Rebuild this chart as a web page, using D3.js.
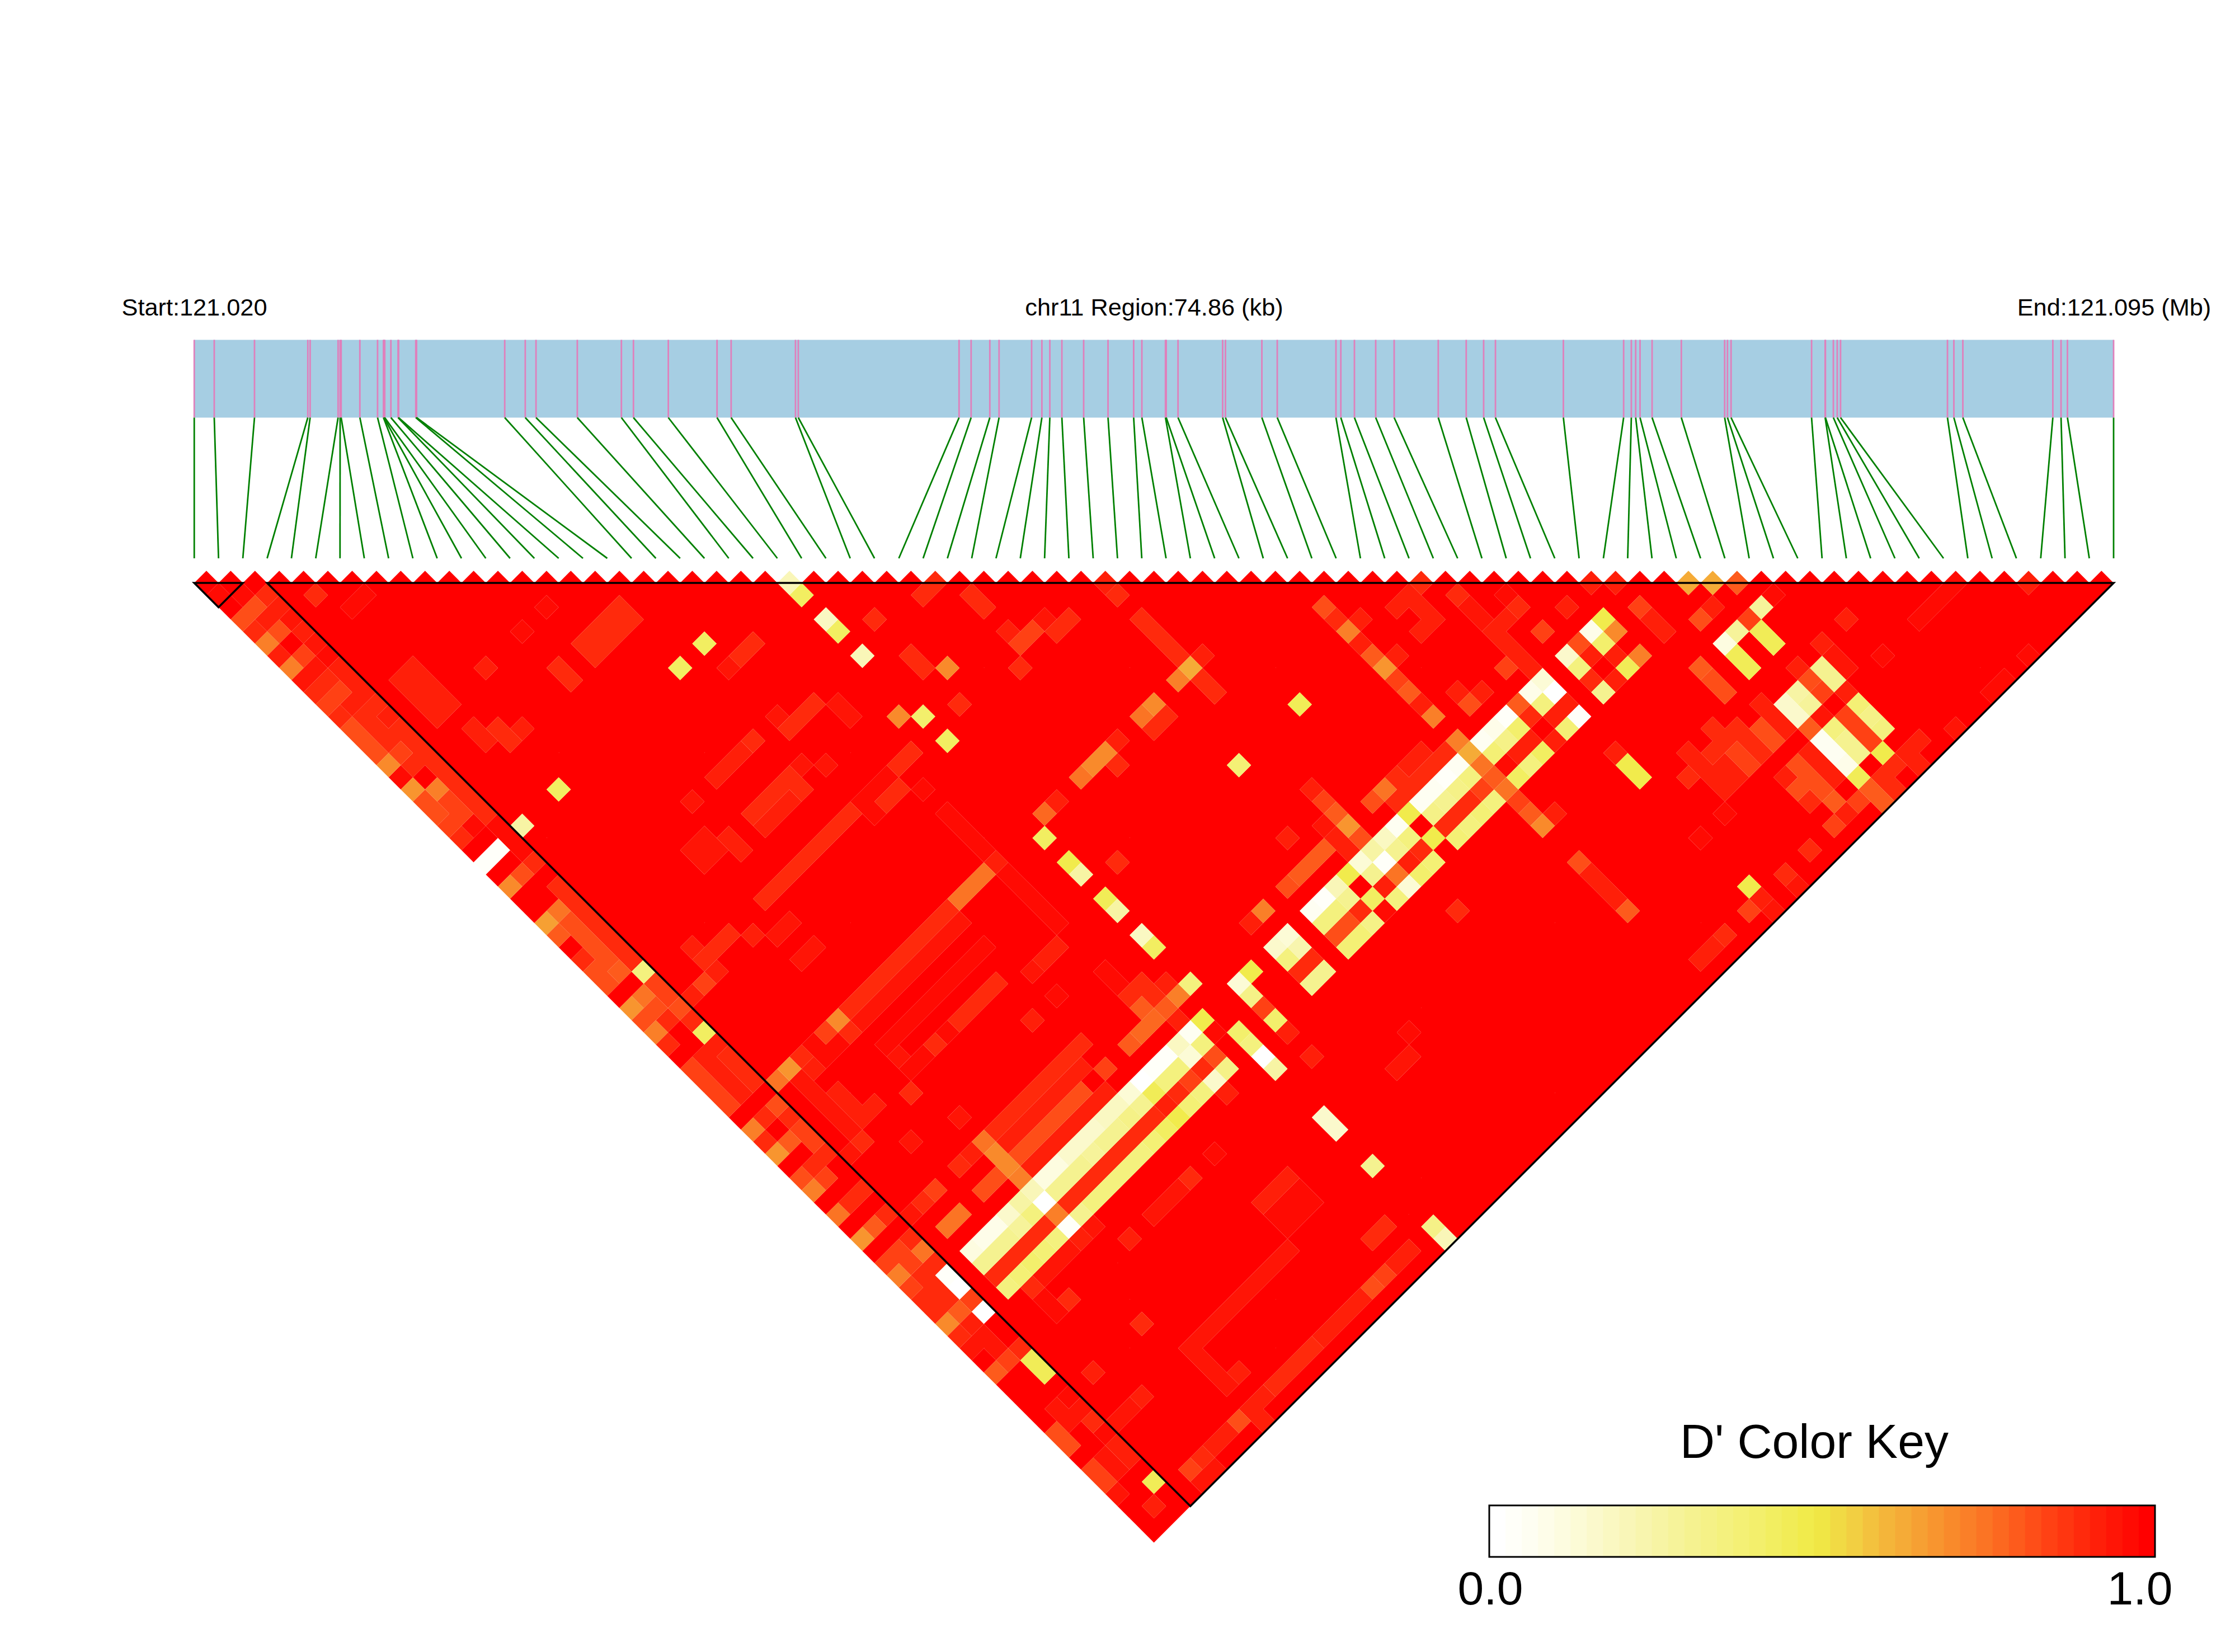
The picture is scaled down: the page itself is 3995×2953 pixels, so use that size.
<!DOCTYPE html>
<html><head><meta charset="utf-8">
<script src="https://cdn.jsdelivr.net/npm/d3@7"></script>
<style>html,body{margin:0;padding:0;background:#fff}text{font-family:"Liberation Sans",Arial,sans-serif;fill:#000}</style>
</head><body><svg id="c" width="3995" height="2953"></svg>
<script>
// SNP positions in kb from the region start
const snpKb=[0,.78,2.35,4.43,4.52,5.61,5.69,5.73,6.46,7.15,7.38,7.40,7.43,7.67,7.95,7.97,8.64,8.67,12.11,12.91,13.33,14.94,16.66,17.13,18.49,20.39,20.94,23.45,23.56,29.83,30.30,31.03,31.39,32.66,33.06,33.37,33.84,34.69,35.64,36.64,36.96,37.88,37.91,38.37,40.11,40.22,41.64,42.24,44.53,44.72,45.25,46.08,46.80,48.52,49.61,50.29,50.75,53.40,55.75,56.05,56.22,56.39,56.86,58.00,59.69,59.80,59.94,63.08,63.61,63.62,63.93,64.08,64.21,68.38,68.63,68.98,72.49,72.81,73.06,74.86];
const regionKb=74.86;
const labels=["Start:121.020","chr11 Region:74.86 (kb)","End:121.095 (Mb)"];
const keyTitle="D' Color Key", keyTicks=["0.0","1.0"];
const keyStops=[0,.05,.1,.2,.3,.4,.49,.55,.6,.65,.7,.75,.8,.85,.9,.95,1];
const keyColors=["#ffffff","#fefef2","#fdfce0","#f9f6b8","#f5f290","#f3ef6c","#f0ea46","#f2cf42","#f4b53a","#f6a033","#f98a2b","#fb7424","#fd5b1c","#ff4114","#ff2a0c","#ff1506","#ff0000"];
const blocks=[[0,2],[3,79]];

// D' by SNP i, for j = jStart, jStart+1, ...
const row0=[0,1,[1,.97,1,.8,.85,.72,.9,.72,.92,.85,.82,.85,.8,.8,.8,.7,.95,.68,.8,.8,.82,.85,1,.03,1,.7,1,1,.65,.78,1,.85,.8,.8,1,.68,.8,.72,.85,1,.82,.82,.82,.82,1,.72,.85,.67,1,.8,.72,1,.75,1,.67,1,.82,.72,.82,.85,.87,.7,.87,.92,1,.78,1,1,1,1,.8,.8,1,.82,.82,.92,1,1,1]];
const row1=[1,2,[1,.95,.8,.88,.8,1,.82,.92,.85,.82,.88,.85,.85,.85,.82,.85,1,.72,.82,.82,.95,1,.03,1,.8,1,1,.75,.8,.8,.8,.8,.78,1,.75,.8,.85,1,1,.9,.9,.9,.9,1,.85,1,.78,1,.85,.82,1,.85,1,.78,1,.82,.82,.85,.85,.85,.78,.9,.92,.92,.82,1,1,1,.92,.92,1,1,.92,.92,1,1,.9,1]];
const row2=[2,3,[1,.85,.88,.92,.9,.92,.95,.9,.9,.88,.85,.88,.85,.85,.85,.85,.85,.85,.85,.85,.95,.95,.95,.85,1,.85,.85,.85,.85,.85,.85,.85,.35,.82,.82,.8,.85,.42,.9,.85,.85,.85,1,.8,.85,.82,.82,.85,1,1,.85,1,.85,1,.85,.75,.85,.02,0,.82,0,1,1,.85,.45,.45,1,.95,.92,.85,.95,.88,.88,1,.45,1,1]];
const row45a=[45,48,[.8,.85,.72,.88,.78,.68,.82,.78,.9,.72,1,.72]];
const row45b=[45,64,[.82,.78,.7]];
const row45c=[45,69,[.8,.9,.88,.88,.78]];
const row37a=[37,41,[.85,.85,.85,.87,.62,.85,.85]];
const row37b=[37,55,[.9,.82,.78,.68,.8]];
const row51=[51,53,[.87,.93,.93,.9,.9,.9,.9]];
const row21=[21,41,[.95,.95,.95,.95,.88,.95,.95,.95,.95,.95]];
const row9=[9,74,[.93,.93,.93]];
const row4=[4,46,[.92,.92,.92,.92,.92]];
const rowSeries=[row0,row1,row2,row45a,row45b,row45c,row37a,row37b,row51,row21,row9,row4];

// D' by SNP j, for i = iStart, iStart+1, ...
const col45a=[45,3,[.75,.68,.85,.95,.82,.7,.85,.85,.85,.85,.85,.85,.85,.85,.85]];
const col45b=[45,18,[.75,.75,.75,.88]];
const col45c=[45,25,[.77,.88,1,.75,.7,.7,.88,1,.75,.7,1,.72]];
const col46=[46,5,[.88,.95,.95,.87,.93,.93,.93,.93,.93,.93,.93,.93,.93]];
const col37a=[37,10,[.87,.87,.87,.87,.87,.87,.87,.87,.95,.95,.95,.87,.85]];
const col78a=[78,4,[.82,.85,.88,.88,.8,.9,.88,.87,.87,.87,.87,.88,.88,.88,.88,.8,.82,.88,.88]];
const col78b=[78,46,[.9,.9,.85,1,.83,.88,1,.85,1,.85]];
const col78c=[78,57,[.82,.9,.82,.78,.87,.85,.88,.9]];
const col73a=[73,9,[.93,.93,.93,.93,.93,.93,.93,.93,.93]];
const col73b=[73,3,[.93,.93,.9]];
const col63ext=[64,5,[.85,.92,.92,.92,.92,.92]];
const col56=[56,9,[.75,.85,.85,.85,.85,.85,.85,.85,.85]];
const col57=[57,9,[.7,.9,.9,.9,.9,.9,.9,.9]];
const col58a=[58,10,[.8,.8,.8,.8,.8,.8]];
const col58b=[58,19,[.78,.76,.76,.78,.7]];
const col58c=[58,29,[.88,.72,1,.8,.78,.78,.78,.9,.68,1,.8,.75,.85,.88,.88]];
const col59a=[59,10,[.9,.9,.9,.9,.9,.9,.9]];
const col59b=[59,36,[.9,.8,1,1,.85,.85,.85,.85,.85]];
const col50=[50,9,[.95,.95,.95,.95,.87,.87,.87,.87]];
const col48=[48,9,[.95,.95,.95,.95,.95,.95,.95,.95,.95]];
const colBase=[col45a,col45b,col45c,col46,col37a,col78a,col78b,col78c,col73a,col73b,col63ext,col56,col57,col58a,col58b,col58c,col59a,col59b,col50,col48];

// the pale streaks, drawn last
const j60a=[60,4,[.1,.08,.08,.15,.25,.2,.1,.1,.15,.15,.15,.18,.18,.12,0,.03,.03,.18,.05,.48]];
const j60b=[60,26,[.12,.48,1,.15,.12,1,.05,.03,.2,.48,.12,.25,.18,.05,.48,.05,.05,.02,.05,.62,.04,.08,.02,.78,.08,.12,1,.15,.8,.08,.48]];
const j61a=[61,4,[.3,.3,.3,.28,.35,0,.3,.3,.3,.28,.3,.3,.32,.3,.45,.35,.35,.12,.35,.95]];
const j61b=[61,26,[.32,1,1,.35,.22,1,.35,.35,.3,1,.3,.03,.3,.35,1,.32,.3,.32,.35,.75,.38,.32,.4,.85,.35,0,1,.35,.9,.4,.7]];
const j62a=[62,4,[.85,.85,.85,.85,.85,.72,.85,.85,.85,.85,.85,.85,.85,.85,.9,.85,.82,.85,.8]];
const j62b=[62,26,[.82,1,1,.85,.85,1,.8,.8,.85,.42,.9,.75,.88,.85,.48,.85,.85,.85,.82,.78,.95,.88,.9,1,.88,.9,1,.85,1,.88]];
const j63a=[63,4,[.35,.38,.4,.38,.35,.02,.3,.35,.35,.35,.35,.35,.38,.42,.48,.38,.35,.15,.32]];
const j63b=[63,26,[.4,1,1,.3,.3,1,.38,.38,.33,.95,.35,.12,.4,.38,1,.38,.35,.38,.35,.75,.42,.35,.42,.9,.38,.02,1,.3,.88,.45,.72]];
const colStreaks=[j60a,j60b,j61a,j61b,j62a,j62b,j63a,j63b];

// single pairs [i, j, D']
const cells=[
[24,25,.2],[24,26,.42],[24,28,.18],[24,29,.42],[24,31,.2],[24,36,.4],[24,38,.42],[24,46,.42],[24,48,.48],[24,49,.25],[24,51,.45],[24,52,.25],[24,54,.18],[24,55,.42],[24,58,.35],[24,62,.4],[24,63,.35],[24,64,0],[24,65,.25],[24,69,.15],[24,70,.15],[24,73,.3],[24,78,.32],[24,79,.2],
[3,24,.25],[6,24,.42],[16,24,.42],[18,24,.42],[23,35,.7],[27,35,.7],[23,58,.72],[23,57,.88],[22,57,.85],[21,56,.85],[21,57,.78],[22,58,.78],[22,59,.9],[17,58,.82],
[35,51,.38],[40,51,.45],[51,67,.48],[51,68,.48],[51,77,.48],[51,66,.9],[51,78,.88],[51,79,.92],
[62,66,.82],[63,66,.28],[61,66,.28],[60,66,.1],[64,66,.97],[62,67,.45],[62,68,.45],[60,67,.45],[60,68,.45],[61,64,.88],[60,64,.8],[58,66,.78],[58,67,.8],[58,68,.8],[66,70,.88],[64,70,.9],[64,71,.93],[64,72,.93],[62,70,.88],
[63,71,.3],[63,72,.3],[62,71,.8],[62,72,.82],[63,73,.9],[61,71,.25],[61,72,.28],[60,71,.15],[60,72,.15],[63,74,.38],[63,75,.32],[63,76,.35],[62,74,.82],[62,75,.82],[62,76,.82],[61,73,.92],[60,73,.78],
[61,74,.35],[61,75,.3],[61,76,.3],[60,74,.05],[60,75,.05],[60,76,.07],[62,77,.48],[60,77,.45],[63,79,.88],[64,78,.9],[61,79,.87],[60,79,.78],[58,77,.78],[57,76,.85],[59,76,.88],[58,74,.8],[58,75,.8],[58,76,.8],[57,74,.88],[57,75,.8],[59,74,.88],[59,75,.88],
[59,70,.88],[59,71,.88],[59,72,.88],[58,71,.8],[58,72,.8],[56,71,.82],[56,72,.82],[56,69,.87],[57,70,.87],[57,71,.87],[57,72,.87],[56,70,.87],[55,70,.87],[54,69,.9],[54,70,.9],[54,71,.9],[54,72,.9],[55,71,.9],[55,72,.9],[53,70,.85],
[66,79,.93],[72,79,.95],[70,79,.95],[69,79,.95],[71,73,.95],[70,73,.95],[69,73,.95],[66,73,.97],[53,79,.93],[53,73,.97],[51,73,.97],[9,79,.9],[4,79,.93],[5,79,.92],
[61,62,.62],[62,63,.62],[63,64,.78],[50,51,.85],[57,58,.88],[58,59,.88],[75,76,.9],[72,73,.95],[30,31,.85],[37,38,.88],
[49,51,.88],[48,51,.88],[53,55,.95],[53,56,.87],[55,58,.88],[58,61,.83],[58,62,.9],[58,63,.88],[53,58,.82],[50,58,.82],[52,56,.9],[49,53,.9],[49,52,.9],[48,53,.9],[46,50,.9],[46,53,.9],[47,58,.8],[48,58,.9],[47,57,.9],
[46,66,.9],[38,66,.87],[34,56,.88],[36,57,.92],[26,50,.87],[26,30,.87],[29,31,.85],[31,33,.85],[31,34,.85],[26,33,.85],[26,34,.85],[26,37,.87],[31,36,.88],[31,37,.82],[32,37,.82],[33,37,.92],[33,38,.87],[34,38,.87],[30,38,.87],[37,39,.85],[38,45,.88],
[34,45,.7],[33,45,.75],[34,46,.85],[33,46,.85],[30,45,.7],[29,45,.7],[28,45,.75],[31,45,.88],[30,46,.85],[19,26,.85],[20,26,.85],[18,26,.92],
[11,33,.88],[11,34,.88],[9,32,.94],[9,33,.94],[10,33,.94],[10,32,.94],[11,30,.93],[13,30,.9],[14,30,.9],[15,30,.9],[16,30,.87],[17,33,.93],[18,34,.93],[18,30,.93],[18,31,.87],[19,31,.87],[20,31,.87],[21,32,.93],[21,33,.93],
[16,33,.87],[15,33,.87],[14,33,.87],[13,33,.87],[16,34,.85],[15,34,.9],[14,34,.9],[13,34,.9],[22,37,.85],[21,37,.87],[20,38,.87],[19,38,.87],[18,38,.95],[21,39,.95],[10,39,.93],[9,39,.93],[8,38,.9],[7,37,.85],[6,37,.85],[5,37,.85],[5,36,.9],[5,38,.9],[4,38,.82],[3,38,.9],[10,41,.93],[9,41,.93],
[20,51,.88],[19,51,.88],[18,51,.93],[18,53,.95],[16,53,.9],[21,54,.95],[21,55,.95],[22,56,.85],
[4,6,.87],[6,8,.95],[5,8,.95],[8,16,.88],[13,16,.95],[11,16,.95],[16,19,.87],[15,19,.87],[14,19,.87],[13,19,.87],[16,20,.87],[15,20,.87],[14,20,.87],[13,20,.87],[11,19,.87],[11,20,.87],[5,18,.88],[5,19,.9],[6,19,.85],[6,20,.85],[7,20,.9],
[4,13,.9],[4,14,.9],[4,15,.9],[4,16,.88],[5,13,.9],[5,14,.9],[5,15,.9],[5,16,.9],
[11,50,.87],[9,49,.93],[8,51,.87],[6,50,.88],[6,53,.92],[9,54,.93],[4,51,.85],[3,51,.93],[5,48,.9],[5,49,.9],[5,50,.9],[5,56,.82],[4,56,.85],[3,56,.92],[4,58,.75],[5,58,.75],[7,58,.8],[8,58,.8],[7,56,.87],[8,56,.9],[9,58,.7],[9,59,.72],
[11,66,.88],[6,66,.85],[8,70,.85],[4,70,.88],[5,65,.95],[5,66,.95],[10,76,.88],[18,70,.88],[19,70,.88],[20,70,.88],[20,71,.95],[20,72,.95],[19,72,.95],[18,72,.95],[18,71,.95],[19,71,.95],[16,66,.87],[15,66,.92],[14,66,.92],[13,66,.92],[18,66,.95],[22,76,.87],[21,76,.87],[31,69,.95],[29,70,.92],[30,70,.92],[26,66,.88],[26,64,.9],[21,64,.9],[9,64,.9],
[30,58,.72],[32,58,.8]];

const svg=d3.select("#c");
const x0=347.2,x1=3778,yTop=1042;
const posScale=d3.scaleLinear().domain([0,regionKb]).range([x0,x1]);
const idxX=d3.scaleLinear().domain([0,snpKb.length-1]).range([x0,x1]);
const halfDiag=(idxX(1)-idxX(0))/2;
const idxY=d3.scaleLinear().domain([0,1]).range([yTop,yTop+halfDiag]);
const color=d3.scaleLinear().domain(keyStops).range(keyColors).clamp(true);
// reading of the reds against the key
const calibrate=d3.scaleLinear().domain([0,.7,.78,.85,.9,1]).range([0,.7,.79,.89,.93,1]);
const bin=v=>Math.round(calibrate(v)*40)/40;

// value matrix
const D=new Map();
const key=(i,j)=>i+"_"+j;
for(let i=0;i<snpKb.length;i++)for(let j=i+1;j<snpKb.length;j++)D.set(key(i,j),1);
const setIf=(i,j,v)=>{if(i<j&&j<snpKb.length)D.set(key(i,j),v)};
colBase.forEach(([j,s,vals])=>vals.forEach((v,k)=>setIf(s+k,j,v)));
rowSeries.forEach(([i,s,vals])=>vals.forEach((v,k)=>setIf(i,s+k,v)));
cells.forEach(([i,j,v])=>setIf(i,j,v));
colStreaks.forEach(([j,s,vals])=>vals.forEach((v,k)=>setIf(s+k,j,v)));
[row2].forEach(([i,s,vals])=>vals.forEach((v,k)=>setIf(i,s+k,v)));
cells.filter(c=>c[0]===24).forEach(([i,j,v])=>setIf(i,j,v));

const data=Array.from(D,([k,v])=>{const [i,j]=k.split("_").map(Number);return {i,j,v:bin(v)}});

// top annotation
svg.append("rect").attr("x",x0).attr("y",607.5).attr("width",x1-x0).attr("height",139).attr("fill","#a6cee3");
svg.append("g").selectAll("line").data(snpKb).join("line")
 .attr("x1",d=>posScale(d)).attr("x2",d=>posScale(d)).attr("y1",607.5).attr("y2",746.5)
 .attr("stroke","#df80bc").attr("stroke-width",2.8);
svg.append("g").selectAll("line").data(snpKb).join("line")
 .attr("x1",d=>posScale(d)).attr("y1",746.5).attr("x2",(d,i)=>idxX(i)).attr("y2",998)
 .attr("stroke","#008000").attr("stroke-width",2.8);

// heat cells: one path per colour bin, so that equal neighbours merge
const cellPath=d=>{
  const cx=idxX((d.i+d.j)/2), cy=idxY(d.j-d.i-1);
  return `M${cx-halfDiag},${cy}L${cx},${cy-halfDiag}L${cx+halfDiag},${cy}L${cx},${cy+halfDiag}Z`;
};
const byBin=d3.groups(data,d=>d.v).sort((a,b)=>b[0]-a[0]);
svg.append("g").selectAll("path").data(byBin).join("path")
 .attr("d",([,g])=>g.map(cellPath).join(""))
 .attr("fill",([v])=>color(v)).attr("fill-rule","nonzero");

// blocks
svg.append("g").selectAll("path").data(blocks).join("path")
 .attr("d",([a,b])=>`M${idxX(a)},${yTop}L${idxX(b)},${yTop}L${idxX((a+b)/2)},${idxY(b-a)}Z`)
 .attr("fill","none").attr("stroke","#000").attr("stroke-width",3.6);

// labels
const lab=svg.append("g").attr("font-size",43.3).attr("text-anchor","middle");
lab.selectAll("text").data(labels).join("text").attr("x",(d,i)=>[347.5,2063,3779][i]).attr("y",564).text(d=>d);

// key
const bins=d3.range(41);
const keyX=d3.scaleBand().domain(bins).range([2662,3852]);
svg.append("g").selectAll("rect").data(bins).join("rect")
 .attr("x",d=>keyX(d)).attr("y",2691).attr("width",keyX.bandwidth()+.5).attr("height",92)
 .attr("fill",d=>color(d/40));
svg.append("rect").attr("x",2662).attr("y",2691).attr("width",1190).attr("height",92).attr("fill","none").attr("stroke","#000").attr("stroke-width",3);
svg.append("text").attr("x",3243).attr("y",2606).attr("text-anchor","middle").attr("font-size",86).text(keyTitle);
svg.append("g").attr("text-anchor","middle").attr("font-size",84).selectAll("text").data(keyTicks).join("text")
 .attr("x",(d,i)=>[2664,3825][i]).attr("y",2868).text(d=>d);
</script></body></html>
